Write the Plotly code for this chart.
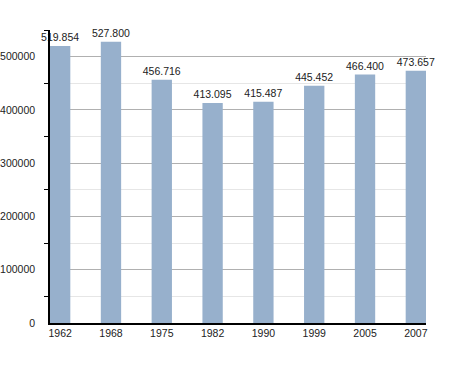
import plotly.graph_objects as go

years = ["1962", "1968", "1975", "1982", "1990", "1999", "2005", "2007"]
population = [519854, 527800, 456716, 413095, 415487, 445452, 466400, 473657]
labels = ["519.854", "527.800", "456.716", "413.095", "415.487", "445.452", "466.400", "473.657"]

fig = go.Figure(go.Bar(
    x=list(range(len(years))), y=population, text=labels,
    textposition="outside", cliponaxis=False, constraintext="none",
    textfont=dict(family="Liberation Sans, Arial", size=10.5, color="#222"),
    marker=dict(color="#97b0cc", line=dict(width=0)),
    width=0.4,
))
fig.update_layout(
    template="none",
    width=455, height=373,
    margin=dict(l=50, r=29, t=30, b=50, autoexpand=False),
    plot_bgcolor="white", paper_bgcolor="white",
    showlegend=False,
    font=dict(family="Liberation Sans, Arial", size=10.5, color="#222"),
)
fig.update_xaxes(
    automargin=False,
    range=[-0.2, 7.2], tickmode="array", tickvals=list(range(len(years))), ticktext=years,
    showline=True, linecolor="black", linewidth=1.5, showgrid=False, ticks="", zeroline=False,
    tickfont=dict(size=10.5, color="#222"),
)
fig.update_yaxes(
    automargin=False,
    range=[0, 550000], dtick=100000, tick0=0,
    showline=True, linecolor="black", linewidth=1.5,
    showgrid=True, gridcolor="#b0b0b0", gridwidth=1,
    ticks="", zeroline=False, tickformat="d", ticklabelstandoff=11,
    tickfont=dict(size=10.5, color="#222"),
    minor=dict(dtick=50000, tick0=0, ticks="outside", ticklen=4, tickcolor="black",
               showgrid=True, gridcolor="#e6e6e6", gridwidth=1),
)
fig.write_html("out.html", config={"displayModeBar": False},
               post_script="document.body.style.margin='0';")
